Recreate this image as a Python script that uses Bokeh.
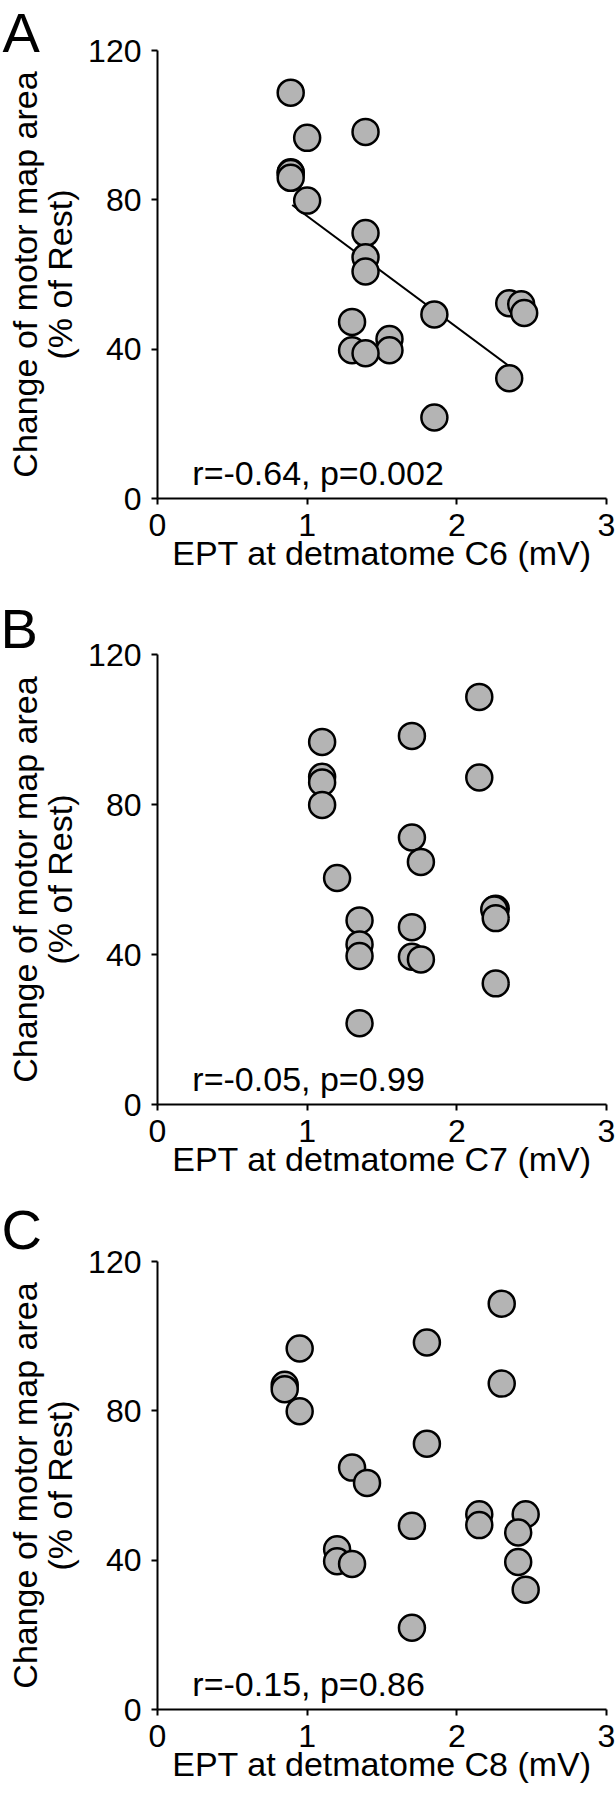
import math
from bokeh.plotting import figure
from bokeh.layouts import column, row
from bokeh.models import Range1d, FixedTicker, Label
from bokeh.core.properties import value
from bokeh.embed import file_html
from bokeh.resources import INLINE

FONT = "Liberation Sans"

x_ticks = [0, 1, 2, 3]
y_ticks = [0, 40, 80, 120]

# Panel A: EPT at dermatome C6
a_x = [0.89, 1.39, 1.00, 0.89, 0.89, 0.89, 1.00, 1.39, 1.39, 1.39, 2.35, 2.43, 2.45,
       1.85, 1.30, 1.55, 1.55, 1.30, 1.39, 2.35, 1.85]
a_y = [108.7, 98.2, 96.6, 87.4, 87.2, 85.9, 79.8, 71.1, 64.6, 60.8, 52.3, 52.0, 49.7,
       49.3, 47.3, 42.7, 39.7, 39.7, 38.9, 32.2, 21.7]
a_fit_x = [0.90, 2.44]
a_fit_y = [78.6, 32.8]

# Panel B: EPT at dermatome C7
b_x = [2.15, 1.70, 1.10, 1.10, 2.15, 1.10, 1.10, 1.70, 1.76, 1.20, 2.26, 2.25, 2.26,
       1.35, 1.70, 1.35, 1.35, 1.70, 1.76, 2.26, 1.35]
b_y = [108.7, 98.3, 96.7, 87.4, 87.2, 85.9, 79.9, 71.2, 64.7, 60.4, 52.2, 52.0, 49.7,
       49.1, 47.3, 42.7, 39.6, 39.4, 38.7, 32.3, 21.7]

# Panel C: EPT at dermatome C8
c_x = [2.30, 1.80, 0.95, 0.85, 2.30, 0.85, 0.95, 1.80, 1.30, 1.40, 2.15, 2.46, 2.15,
       1.70, 2.41, 1.20, 1.20, 2.41, 1.30, 2.46, 1.70]
c_y = [108.7, 98.3, 96.7, 87.0, 87.3, 85.8, 79.9, 71.2, 64.8, 60.7, 52.3, 52.3, 49.4,
       49.2, 47.4, 42.9, 39.7, 39.5, 39.0, 32.1, 21.9]

letters = ["A", "B", "C"]
x_labels = ["EPT at detmatome C6 (mV)", "EPT at detmatome C7 (mV)", "EPT at detmatome C8 (mV)"]
y_label_lines = ["Change of motor map area", "(% of Rest)"]
stats = ["r=-0.64, p=0.002", "r=-0.05, p=0.99", "r=-0.15, p=0.86"]

Y_MAX = 120
SIDE_W = 85
# (figure height, space above the 120 tick, axis height, letter x)
layout = [(596, 50, 448, 2), (601, 58, 450, 0), (603, 64, 448, 1)]


def style_axis(ax):
    ax.minor_tick_line_color = None
    ax.major_tick_in = 0
    ax.major_tick_out = 6
    ax.major_tick_line_width = 2
    ax.axis_line_width = 2
    ax.major_tick_line_color = "black"
    ax.axis_line_color = "black"
    ax.major_label_text_font = FONT
    ax.major_label_text_font_size = "32px"
    ax.major_label_text_color = "black"
    ax.axis_label_text_font = FONT
    ax.axis_label_text_font_size = "34px"
    ax.axis_label_text_font_style = "normal"
    ax.axis_label_text_color = "black"


def make_side(i):
    h, top, fh, lx = layout[i]
    frame_h = top + fh
    # y in this strip is minus the pixel distance from the top of the strip
    s = figure(width=SIDE_W, height=h, x_range=Range1d(0, SIDE_W), y_range=Range1d(-frame_h, 0),
               output_backend="svg", toolbar_location=None,
               min_border_left=0, min_border_right=0, min_border_top=0,
               min_border_bottom=h - frame_h,
               x_axis_location=None, y_axis_location=None)
    s.title.visible = False
    s.outline_line_color = None
    s.xgrid.visible = False
    s.ygrid.visible = False
    s.background_fill_color = "white"
    s.border_fill_color = "white"
    s.text(x=[lx], y=[-32], text=[letters[i]], text_font=value(FONT),
           text_font_size=value("56px"), text_color="black",
           text_align="left", text_baseline="middle")
    yc = -(top + fh / 2)
    s.text(x=[24, 59], y=[yc, yc], text=y_label_lines, angle=math.pi / 2,
           text_font=value(FONT), text_font_size=value("34px"), text_color="black",
           text_align="center", text_baseline="middle")
    return s


def make_panel(i, xs, ys, fit=None):
    h, top, fh, lx = layout[i]
    frame_h = top + fh
    y_end = Y_MAX * frame_h / fh  # empty band above the axis
    p = figure(width=616 - SIDE_W, height=h, x_range=Range1d(0, 3), y_range=Range1d(0, y_end),
               output_backend="svg", toolbar_location=None,
               min_border_left=156 - SIDE_W, min_border_right=10,
               min_border_top=0, min_border_bottom=h - frame_h)
    p.title.visible = False
    p.outline_line_color = None
    p.xgrid.grid_line_color = None
    p.ygrid.grid_line_color = None
    p.background_fill_color = "white"
    p.border_fill_color = "white"

    style_axis(p.xaxis[0])
    style_axis(p.yaxis[0])
    p.xaxis.ticker = FixedTicker(ticks=x_ticks)
    p.yaxis.ticker = FixedTicker(ticks=y_ticks)
    p.yaxis.bounds = (0, Y_MAX)

    p.xaxis.axis_label = x_labels[i]
    p.xaxis.major_label_standoff = 9
    p.yaxis.major_label_standoff = 10
    p.xaxis.axis_label_standoff = -5

    if fit is not None:
        p.line(fit[0], fit[1], line_color="black", line_width=2)

    p.scatter(xs, ys, size=26, fill_color="#b4b4b4", line_color="black", line_width=2.5)

    p.add_layout(Label(x=0.233, y=6.7, text=stats[i], text_font=FONT, text_font_size="34px",
                       text_color="black", text_baseline="middle", text_align="left"))
    return p


pa = make_panel(0, a_x, a_y, (a_fit_x, a_fit_y))
pb = make_panel(1, b_x, b_y)
pc = make_panel(2, c_x, c_y)

page = column(row(make_side(0), pa), row(make_side(1), pb), row(make_side(2), pc))

with open("out.html", "w") as f:
    f.write(file_html(page, INLINE))
